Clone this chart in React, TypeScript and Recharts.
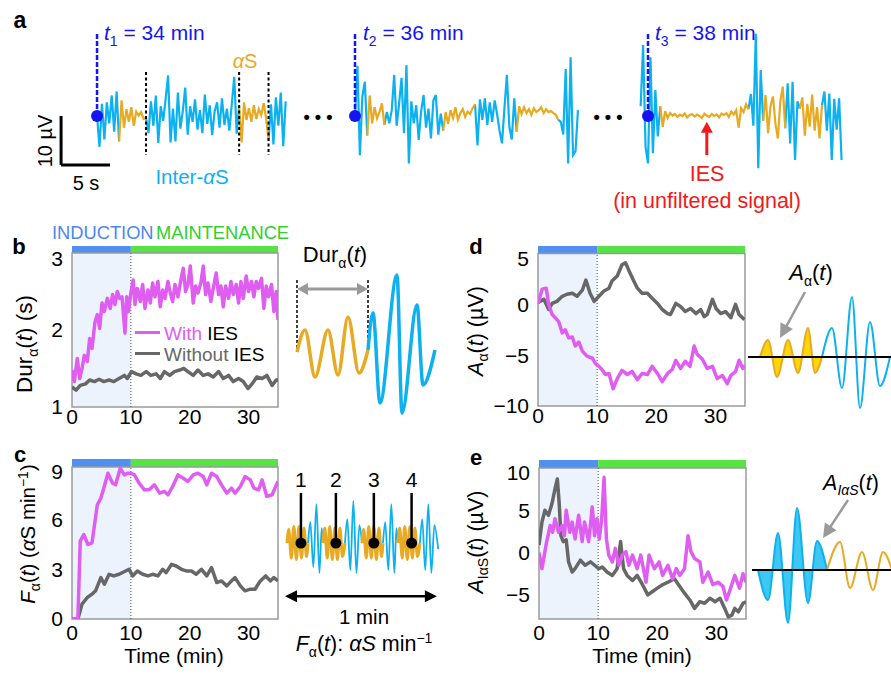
import React from 'react'
import { LineChart, ComposedChart, Line, Area, XAxis, YAxis, ReferenceLine, ReferenceArea, ReferenceDot } from 'recharts'

const FONT = '"Liberation Sans", Arial, Helvetica, sans-serif'
const CYAN = '#0db1f0'
const GOLD = '#e8aa22'
const MAG = '#e05df2'
const GRAY = '#676767'
const NAVY = '#1515f0'
const RED = '#f21a1a'
const IND = '#5290f0'
const MAINT = '#55e346'
const SHADE = '#edf3fd'

// ---- panel a: filtered EEG snippets (µV), one sample every 0.25 s ----
const STEP = 0.25
const trace1 = [
  0, -6.3, 2.5, -4.8, 2.8, -1.5, 4.2, -3.2, 5.0, -5.2,
  3.2, -2.4, 1.4, -1.2, 1.8, -2.0, 0.9, 0.1, 0.8, -0.6, -0.4,
  -3.5, 3.0, -2.0, 4.2, -5.5, 2.0, -1.0, 3.5, 8.3, -5.4, 1.5, -5.2, 4.8, -2.6, 1.0, 5.8, -3.8, 2.0, -1.2,
  3.4, -2.8, 1.2, -3.5, 4.4, -1.6, 2.2, -3.9, 1.0, 2.8, -2.4, 3.6, -1.8, 1.5, -3.0, 2.4, 8.0, -3.6, 2.0,
  -5.4, 2.8, -0.8, 1.6, -1.2, 2.2, -0.6, 1.4, 0.2, 2.6, -0.4, -5.0,
  2.4, -5.8, 3.8, -2.0, 4.8, -6.2, 3.0,
]
const trace1Spindles: [number, number][] = [[2.25, 5.0], [14.5, 17.5]]
const trace1Bounds = [5.0, 14.5, 17.5]
const trace2 = [
  0, 10.2, -8.0, 4.0, 7.0, -4.0, 4.2, -1.5, 1.8, -0.5, 0.8, 2.6, -1.8,
  0.8, -1.5, 1.2, 8.4, -2.0, 2.5, 7.8, -3.5, 10.4, -9.7, 3.0, -1.5, 2.2, -4.9, 1.0, 4.3, -2.4, 1.5, -4.6, 3.2, 4.3, -3.8, 0.5,
  -3.0, 0.8, -1.6, 1.2, -0.4, 1.8, -0.8, 0.6, 1.4, -0.2, 0.9, 0.4, 1.6, 2.4,
  -6.0, 3.4, -0.8, 3.6, -1.8, 2.8, -1.2, 3.2, 0.4, -3.0, -5.6, 1.6, 8.4, -2.2, -4.8, 3.6,
  -3.2, 2.0, 0.4, 1.8, 0.6, 1.4, 0.2, 1.6, 0.8, 1.2, 1.8, 0.6, 1.4, 0.8, 1.0, 0.6, 0.2, -0.8,
  -1.2, -3.8, 9.6, -9.7, 12.0, -8.0, -7.2, 1.2,
]
const trace2Spindles: [number, number][] = [[1.25, 3.0], [9.0, 12.25], [16.5, 20.75]]
const trace3 = [
  2.0, 14.5, -6.3, -9.7, 12.0, -7.6, 5.3, -4.2, 2.0,
  -2.2, 1.0, -0.4, 0.6, 0.1, 0.4, -0.2, 0.3, 0.0, 0.5, -0.3, 0.2, 0.4, -0.1, 0.3, 0.0, -0.4, 0.5,
  0.1, -0.2, 0.4, 0.0, 0.3, -0.3, 0.5, 0.2, 0.6, -0.2, 0.9, 0.3, 1.2, -2.4, 1.6, 0.8, 2.4, 1.4,
  4.5, -2.0, 16.8, -10.7, 9.4, -1.0,
  4.3, -3.5, 2.0, 4.0, -1.5, -4.6, 3.0, 6.0, -2.5,
  6.7, -5.6, 7.0, -9.0, 3.0, 1.5,
  3.8, -4.0, 2.5, -2.2, 4.4, -3.0, 1.8, -4.6, 2.2,
  5.0, -3.0, 4.6, -9.0, 3.5, -2.8, 3.6, -9.0,
]
const trace3Start = -0.75
const trace3Spindles: [number, number][] = [[1.25, 10.25], [11.75, 14.0], [15.5, 17.75]]
const iesAt = 6.0

// ---- panels b-e: time courses (min, value) ----
const durWith: [number, number][] = [
  [0, 1.48], [0.4, 1.33], [0.9, 1.63], [1.3, 1.37], [1.7, 1.5], [2.1, 1.67], [2.6, 1.59], [3, 1.89], [3.4, 1.76], [3.9, 2.1],
  [4.3, 2.2], [4.7, 2.02], [5.1, 2.35], [5.5, 2.24], [6, 2.41], [6.5, 2.28], [6.9, 2.46], [7.3, 2.33], [7.7, 2.5], [8.1, 2.41],
  [8.5, 2.43], [9, 1.96], [9.3, 2.43], [9.6, 2.24], [10, 2.48], [10.4, 2.65], [10.7, 2.33], [11.1, 2.54], [11.6, 2.37], [12, 2.59],
  [12.4, 2.28], [12.9, 2.52], [13.3, 2.35], [13.7, 2.61], [14.1, 2.43], [14.6, 2.63], [15, 2.3], [15.4, 2.52], [15.8, 2.41], [16.3, 2.63],
  [16.7, 2.48], [17.1, 2.37], [17.5, 2.59], [18, 2.43], [18.5, 2.65], [18.9, 2.8], [19.3, 2.5], [19.7, 2.59], [20.1, 2.83], [20.6, 2.35],
  [21, 2.57], [21.4, 2.48], [21.9, 2.61], [22.3, 2.83], [22.7, 2.46], [23.1, 2.61], [23.6, 2.37], [24, 2.54], [24.5, 2.74], [24.9, 2.46],
  [25.3, 2.57], [25.7, 2.3], [26.1, 2.57], [26.6, 2.41], [27, 2.63], [27.4, 2.46], [27.9, 2.59], [28.3, 2.35], [28.7, 2.63], [29.1, 2.41],
  [29.6, 2.7], [30, 2.5], [30.5, 2.63], [30.9, 2.43], [31.3, 2.63], [31.7, 2.54], [32.2, 2.67], [32.6, 2.28], [33, 2.57], [33.4, 2.43],
  [33.9, 2.59], [34.3, 2.24], [34.7, 2.5], [35, 2.13],
]
const durWithout: [number, number][] = [
  [0, 1.26], [0.7, 1.22], [1.4, 1.28], [2.3, 1.3], [3, 1.35], [3.8, 1.33], [4.6, 1.36], [5.4, 1.33], [6.3, 1.35], [7.1, 1.33],
  [8, 1.37], [8.9, 1.41], [9.4, 1.37], [10.1, 1.46], [10.9, 1.43], [11.7, 1.41], [12.6, 1.46], [13.4, 1.41], [14.3, 1.43], [15, 1.37],
  [15.7, 1.46], [16.6, 1.41], [17.4, 1.46], [18.3, 1.48], [19, 1.5], [19.7, 1.46], [20.6, 1.41], [21.4, 1.48], [22.3, 1.41], [23.1, 1.43],
  [24, 1.39], [24.9, 1.46], [25.7, 1.37], [26.6, 1.41], [27.4, 1.33], [28.3, 1.37], [29.1, 1.33], [29.9, 1.24], [30.6, 1.3], [31.4, 1.39],
  [32.3, 1.37], [33.1, 1.41], [34, 1.28], [34.7, 1.35], [35, 1.35],
]
const rateWith: [number, number][] = [
  [0, 0], [1, 0], [1.4, 4.7], [2, 5.1], [2.7, 4.5], [3.4, 4.6], [4.3, 6.9], [4.9, 7.3], [5.4, 7.9], [6.1, 8.8],
  [6.9, 8.2], [7.4, 8.1], [8.2, 9.1], [8.9, 8.7], [9.4, 8.8], [10, 8.8], [10.6, 8.7], [11.4, 8.2], [12.3, 7.8], [13.1, 7.8],
  [14, 8.1], [14.9, 7.6], [15.7, 7.7], [16.3, 7.5], [17.1, 8.0], [18, 8.7], [18.9, 8.5], [19.7, 8.3], [20.6, 8.7], [21.4, 8.8],
  [22.3, 8.6], [22.9, 8.1], [23.7, 8.8], [24.6, 8.6], [25.4, 8.1], [26.3, 7.6], [27.1, 7.9], [27.7, 7.6], [28.6, 8.0], [29.4, 8.6],
  [30.3, 8.4], [30.9, 7.9], [31.7, 7.8], [32.3, 8.4], [33.1, 7.4], [34, 7.5], [34.6, 8.0], [35, 8.3],
]
const rateWithout: [number, number][] = [
  [0, 0], [1, 0], [1.7, 0.9], [2.6, 1.3], [3.4, 1.5], [4, 1.7], [4.9, 2.5], [5.5, 2.1], [6.3, 2.7], [7.1, 2.6],
  [8, 2.7], [9.1, 2.9], [9.7, 3.0], [10.3, 2.6], [11.1, 2.9], [12, 2.7], [12.9, 2.6], [13.7, 2.7], [14.6, 2.6], [15.4, 3.0],
  [16, 2.8], [16.9, 3.3], [17.7, 3.2], [18.6, 3.0], [19.4, 2.9], [20.3, 2.9], [21.1, 2.7], [22, 3.0], [22.9, 2.6], [23.7, 3.1],
  [24.6, 2.2], [25.4, 2.3], [26.3, 2.0], [27.1, 2.3], [27.7, 2.5], [28.6, 2.0], [29.4, 1.7], [30.3, 1.8], [31.1, 1.8], [32, 2.3],
  [32.9, 2.6], [33.7, 2.3], [34.3, 2.5], [35, 2.3],
]
const ampWith: [number, number][] = [
  [0, 0.1], [0.7, 1.5], [1.4, 1.6], [1.8, 0], [2.4, -1.0], [2.9, -1.3], [3.5, -1.7], [4.1, -2.8], [4.6, -2.5], [5.2, -3.3],
  [5.8, -3.2], [6.3, -4.1], [6.9, -3.7], [7.5, -4.6], [8.3, -5.1], [9.2, -5.3], [9.7, -5.8], [10.3, -6.1], [10.8, -6.4], [11.4, -6.9],
  [12, -6.8], [12.7, -8.3], [13.4, -7.3], [14.2, -6.5], [15.1, -6.9], [15.9, -6.6], [16.8, -7.4], [17.6, -6.8], [18.5, -6.9], [19.3, -6.1],
  [20.2, -6.8], [21, -7.6], [21.9, -6.8], [22.7, -6.4], [23.3, -5.5], [24.1, -6.3], [24.9, -5.6], [25.7, -6.1], [26.4, -4.1], [26.9, -4.9],
  [27.8, -5.4], [28.6, -6.3], [29.5, -6.1], [30.3, -7.3], [31.2, -7.0], [32, -7.8], [32.6, -7.0], [33.4, -6.6], [34, -5.5], [34.6, -6.3],
  [35, -6.0],
]
const ampWithout: [number, number][] = [
  [0, 0.2], [1, 0.5], [1.8, -0.5], [2.4, 0.1], [3.2, 0.3], [4.1, 0.8], [4.9, 1.0], [5.8, 1.1], [6.6, 0.8], [7.5, 1.4],
  [8.1, 2.4], [8.8, 1.1], [9.5, 0.3], [10.3, 0.8], [11.1, 1.3], [12, 1.6], [12.5, 2.3], [13.4, 2.8], [14.2, 3.9], [14.8, 4.1],
  [15.4, 3.3], [16.2, 2.3], [16.8, 1.6], [17.6, 1.1], [18.5, 1.1], [19.3, 0.6], [20.2, 0.1], [21, -0.5], [21.9, -0.9], [22.4, -1.0],
  [23.3, 0.1], [24.1, -0.2], [24.9, -0.7], [25.8, -0.4], [26.7, -0.9], [27.5, -0.5], [28.1, -1.2], [28.6, -1.0], [29.5, 0.5], [30.1, -0.4],
  [30.9, -0.9], [31.7, -0.7], [32.6, -1.3], [33.4, 0], [34, -1.0], [34.9, -1.5],
]
const interAmpWith: [number, number][] = [
  [0, 0], [0.5, -1.9], [0.9, -0.3], [1.3, 1.3], [1.9, 3.2], [2.3, 2.4], [2.7, 4.0], [3.3, 2.4], [3.9, 3.2], [4.3, 2.0],
  [4.6, 5.0], [5.2, 2.4], [5.6, 3.6], [6.1, 1.6], [6.7, 4.4], [7.3, 1.3], [7.7, 3.6], [8.4, 1.3], [9, 5.4], [9.4, 2.0],
  [9.8, 4.0], [10.2, 1.6], [10.6, 4.0], [11, 8.9], [11.4, 1.6], [11.8, -0.3], [12.4, -1.1], [12.9, 0.5], [13.5, -1.5], [14.1, -0.3],
  [14.7, 0.1], [15.2, -1.5], [15.8, -0.3], [16.6, -1.9], [17.2, -0.3], [18.1, -3.5], [18.6, -0.3], [19.5, -1.9], [20.3, -1.1], [20.9, -2.7],
  [21.8, -1.5], [22.6, -3.1], [23.2, -1.9], [23.8, -2.7], [24.6, -1.9], [25.2, 2.0], [25.7, 0.1], [26.3, -0.7], [27.2, -1.1], [27.7, -3.5],
  [28.6, -2.3], [29.4, -3.8], [30.3, -3.5], [31.1, -4.0], [31.7, -5.6], [32.4, -4.2], [33.1, -2.7], [33.9, -4.2], [34.5, -2.5], [35, -3.5],
]
const interAmpWithout: [number, number][] = [
  [0, 0.9], [0.5, 3.6], [1, 5.0], [1.6, 4.4], [2.2, 5.8], [2.7, 7.5], [3.1, 8.7], [3.4, 6.0], [3.7, 2.0], [4.1, 1.3],
  [4.6, 1.5], [5, -1.1], [5.6, -2.3], [6.1, -1.9], [7, -0.9], [7.8, -1.5], [8.7, -1.1], [9.4, -1.5], [10.1, -1.9], [10.7, -1.7],
  [11.5, -2.3], [12.4, -2.7], [13.2, -1.9], [13.8, 1.3], [14.3, -1.9], [14.9, -2.7], [15.8, -3.3], [16.6, -2.7], [17.5, -3.8], [18.4, -5.0],
  [19.2, -4.6], [20, -4.2], [20.9, -3.8], [21.8, -3.5], [22.9, -3.1], [23.8, -4.0], [24.6, -4.8], [25.5, -5.6], [26.3, -6.6], [27.2, -5.8],
  [28, -6.0], [28.9, -5.4], [29.8, -5.8], [30.6, -5.4], [31.4, -6.6], [32, -7.6], [32.6, -7.4], [33.1, -6.6], [33.7, -7.0], [34.5, -6.0],
  [35, -5.8],
]

// ---- schematics (ms or s, arbitrary µV) ----
const durDemoSpindle: [number, number][] = [[0, 0], [32, 2.2], [72, -2.5], [124, 2.2], [164, -2.3], [204, 3.5], [248, -2.1], [284, 0.2]]
const durDemoInter: [number, number][] = [[284, 0.2], [304, 3.9], [332, -5.1], [400, 7.7], [420, -6.1], [480, 4.7], [504, -3.3], [552, 0.2]]
const rateDemo: [number, number][] = [
  [0.8, 0], [1.5, 4.5], [2.5, -5], [3.5, 5.5], [4.5, -5.5], [5.5, 5.5], [6.5, -5], [7.5, 5], [8.5, -4.5], [9.1, 0],
  [10.0, 7], [11.2, -8], [12.4, 13], [13.6, -10], [14.5, 5],
  [15.0, 0], [15.7, 5], [16.7, -5], [17.7, 5.5], [18.7, -5.5], [19.7, 5], [20.7, -5.5], [21.7, 5], [22.7, -4.5], [23.7, 0],
  [24.6, 8], [25.8, -9], [27.0, 14], [28.2, -10], [29.4, 6],
  [30.4, 0], [31.1, 4.5], [32.1, -5], [33.1, 5.5], [34.1, -5], [35.1, 5.5], [36.1, -5.5], [37.1, 5], [38.1, -4.5], [38.7, 0],
  [39.6, 7], [40.8, -9], [42.0, 13], [43.2, -10], [44.0, 5],
  [44.6, 0], [45.3, 5], [46.3, -5], [47.3, 5.5], [48.3, -5.5], [49.3, 5.5], [50.3, -5], [51.3, 5], [52.3, -4.5], [53.3, 0],
  [54.2, 8], [55.4, -9], [56.6, 13], [57.8, -10], [59.0, 6], [60.5, -2],
]
const rateDemoSpindles: [number, number][] = [[0.8, 9.1], [15.0, 23.7], [30.4, 38.7], [44.6, 53.3]]
const rateDemoMarks = [6.3, 20.1, 35.1, 50.0]
const ampDemoSpindle: [number, number][] = [[0, 0], [40, 1.7], [85, -2.0], [140, 1.7], [190, -1.6], [240, 2.9], [275, -1.6], [310, 0]]
const ampDemoInter: [number, number][] = [[310, 0], [360, 2.9], [410, -3.1], [460, 6.0], [500, -5.1], [550, 3.5], [600, -2.9], [650, 0]]
const iampDemoInter: [number, number][] = [[0, 0], [50, -3.0], [100, 3.7], [150, -5.3], [195, 6.2], [250, -3.3], [295, 2.9], [345, 0]]
const iampDemoSpindle: [number, number][] = [[345, 0], [410, 2.8], [460, -1.8], [520, 1.8], [575, -2.0], [625, 1.8], [670, 0]]

const rows = (p: [number, number][]) => p.map(([t, v]) => ({ t, v }))
const minus = (v: number) => (v < 0 ? `\u2212${-v}` : `${v}`)

function splitRuns(pts: [number, number][], wins: [number, number][]) {
  const e = 1e-6
  return pts.map(([t, v]) => {
    const inWin = wins.some(([a, b]) => t >= a - e && t <= b + e)
    const strict = wins.some(([a, b]) => t > a + e && t < b - e)
    return { t, sp: inWin ? v : null, inter: strict ? null : v }
  })
}
const sampled = (vals: number[], t0: number): [number, number][] => vals.map((v, i) => [t0 + i * STEP, v])

function arrowShape(both: boolean, len = 10, half = 5) {
  return (p: any) => {
    const { x1, y1, x2, y2, stroke, strokeWidth } = p
    const a = Math.atan2(y2 - y1, x2 - x1)
    const c = Math.cos(a), s = Math.sin(a)
    const tri = (x: number, y: number, d: number) => {
      const bx = x - d * len * c, by = y - d * len * s
      return `${x},${y} ${bx - half * s},${by + half * c} ${bx + half * s},${by - half * c}`
    }
    const sx = both ? x1 + len * 0.8 * c : x1
    const sy = both ? y1 + len * 0.8 * s : y1
    return (
      <g>
        <line x1={sx} y1={sy} x2={x2 - len * 0.8 * c} y2={y2 - len * 0.8 * s} stroke={stroke} strokeWidth={strokeWidth} />
        <polygon points={tri(x2, y2, 1)} fill={stroke} />
        {both && <polygon points={tri(x1, y1, -1)} fill={stroke} />}
      </g>
    )
  }
}

function Txt({ x, y, size = 18, color = '#000', anchor = 'middle', bold, rotate, children }: any) {
  const tx = anchor === 'middle' ? '-50%' : anchor === 'end' ? '-100%' : '0'
  return (
    <div style={{ position: 'absolute', left: x, top: y, transform: `translate(${tx}, -50%)${rotate ? ` rotate(${rotate}deg)` : ''}`, fontSize: size, color, fontWeight: bold ? 700 : 400, whiteSpace: 'nowrap', lineHeight: 1 }}>
      {children}
    </div>
  )
}

const SEG_TOP = 28
const SEG_H = 176
const SEG_Y: [number, number] = [-18, 18]

function Trace({ pts, wins, left, width, domain, children }: any) {
  return (
    <div style={{ position: 'absolute', left, top: SEG_TOP }}>
      <LineChart width={width} height={SEG_H} data={splitRuns(pts, wins)} margin={{ top: 0, right: 0, bottom: 0, left: 0 }}>
        <XAxis type="number" dataKey="t" domain={domain} hide allowDataOverflow />
        <YAxis type="number" domain={SEG_Y} hide allowDataOverflow />
        <Line dataKey="inter" stroke={CYAN} strokeWidth={2.2} dot={false} isAnimationActive={false} />
        <Line dataKey="sp" stroke={GOLD} strokeWidth={2.2} dot={false} isAnimationActive={false} />
        {children}
      </LineChart>
    </div>
  )
}

function TimePanel({ plotLeft, barTop, plotW, plotH, domain, frameTop, ticks, withIES, withoutIES, tickGap }: any) {
  const [lo, hi] = domain
  const tick = { fill: '#000', fontSize: 21, fontFamily: FONT }
  return (
    <div style={{ position: 'absolute', left: plotLeft - 60, top: barTop }}>
      <ComposedChart width={plotW + 64} height={plotH + 30} margin={{ top: 0, right: 4, bottom: 0, left: 0 }}>
        <XAxis type="number" dataKey="t" domain={[0, 35]} ticks={[0, 10, 20, 30]} axisLine={false} tickLine={false} tickSize={0} tickMargin={tickGap} height={30}
          tick={tick} allowDataOverflow />
        <YAxis type="number" domain={[lo, hi]} ticks={ticks} axisLine={false} tickLine={false} tickSize={0} tickMargin={9} width={60}
          tick={tick} tickFormatter={minus} allowDataOverflow />
        <ReferenceArea x1={0} x2={10} y1={lo} y2={frameTop} fill={SHADE} fillOpacity={1} stroke="none" />
        <ReferenceArea x1={0} x2={10} y1={frameTop} y2={hi} fill={IND} fillOpacity={1} stroke="none" />
        <ReferenceArea x1={10} x2={35} y1={frameTop} y2={hi} fill={MAINT} fillOpacity={1} stroke="none" />
        <ReferenceLine segment={[{ x: 10, y: lo }, { x: 10, y: frameTop }]} stroke="#555" strokeDasharray="1 2" strokeWidth={1} />
        <Line data={rows(withoutIES)} dataKey="v" stroke={GRAY} strokeWidth={3.5} dot={false} isAnimationActive={false} strokeLinejoin="round" />
        <Line data={rows(withIES)} dataKey="v" stroke={MAG} strokeWidth={3.5} dot={false} isAnimationActive={false} strokeLinejoin="round" />
        <ReferenceArea x1={0} x2={35} y1={lo} y2={frameTop} fill="none" stroke="#9a9a9a" strokeWidth={1.5} />
      </ComposedChart>
    </div>
  )
}

const SUB = { fontSize: 14 }

export default function App() {
  const scaleX = -3.67
  return (
    <div style={{ position: 'absolute', left: 0, top: 0, width: 891, height: 676, background: '#fff', fontFamily: FONT, overflow: 'hidden' }}>
      {/* ---------- panel a ---------- */}
      <Txt x={20} y={20} size={23} bold>a</Txt>
      <Trace pts={sampled(trace1, 0)} wins={trace1Spindles} left={50} width={245} domain={[-4.8, 20.2]}>
        {trace1Bounds.map((b) => (
          <ReferenceLine key={b} segment={[{ x: b, y: 9 }, { x: b, y: -8 }]} stroke="#000" strokeWidth={2} strokeDasharray="3 2.5" ifOverflow="visible" />
        ))}
        <ReferenceLine segment={[{ x: scaleX, y: 0 }, { x: scaleX, y: -10 }]} stroke="#000" strokeWidth={3} ifOverflow="visible" />
        <ReferenceLine segment={[{ x: scaleX, y: -10 }, { x: scaleX + 5, y: -10 }]} stroke="#000" strokeWidth={3} ifOverflow="visible" />
        <ReferenceLine segment={[{ x: 0, y: 0 }, { x: 0, y: 17 }]} stroke={NAVY} strokeWidth={2.5} strokeDasharray="5 2" ifOverflow="visible" />
        <ReferenceDot x={0} y={0} r={6} fill={NAVY} stroke="none" ifOverflow="visible" />
      </Trace>
      <Trace pts={sampled(trace2, 0)} wins={trace2Spindles} left={345} width={245} domain={[-1.02, 23.98]}>
        <ReferenceLine segment={[{ x: 0, y: 0 }, { x: 0, y: 17 }]} stroke={NAVY} strokeWidth={2.5} strokeDasharray="5 2" ifOverflow="visible" />
        <ReferenceDot x={0} y={0} r={6} fill={NAVY} stroke="none" ifOverflow="visible" />
      </Trace>
      <Trace pts={sampled(trace3, trace3Start)} wins={trace3Spindles} left={630} width={230} domain={[-1.837, 21.63]}>
        <ReferenceLine segment={[{ x: 0, y: 0 }, { x: 0, y: 17 }]} stroke={NAVY} strokeWidth={2.5} strokeDasharray="5 2" ifOverflow="visible" />
        <ReferenceDot x={0} y={0} r={6} fill={NAVY} stroke="none" ifOverflow="visible" />
        <ReferenceLine segment={[{ x: iesAt, y: -8 }, { x: iesAt, y: -1.2 }]} stroke={RED} strokeWidth={3} ifOverflow="visible" shape={arrowShape(false, 11, 6)} />
      </Trace>
      <Txt x={104} y={35} size={21} color={NAVY} anchor="start"><i>t</i><sub style={SUB}>1</sub> = 34 min</Txt>
      <Txt x={363} y={35} size={21} color={NAVY} anchor="start"><i>t</i><sub style={SUB}>2</sub> = 36 min</Txt>
      <Txt x={655} y={35} size={21} color={NAVY} anchor="start"><i>t</i><sub style={SUB}>3</sub> = 38 min</Txt>
      <Txt x={245} y={61} size={20} color={GOLD}><i>α</i>S</Txt>
      <Txt x={192} y={177} size={20.5} color={CYAN}>Inter-<i>α</i>S</Txt>
      <Txt x={45} y={141} size={20} rotate={-90}>10 µV</Txt>
      <Txt x={86} y={183} size={20}>5 s</Txt>
      <Txt x={318} y={117} size={18} bold>• • •</Txt>
      <Txt x={608} y={117} size={18} bold>• • •</Txt>
      <Txt x={707} y={175} size={21.5} color={RED}>IES</Txt>
      <Txt x={707} y={202} size={21.5} color={RED}>(in unfiltered signal)</Txt>

      {/* ---------- panel b ---------- */}
      <Txt x={19} y={247} size={22} bold>b</Txt>
      <Txt x={52} y={233} size={18.3} color="#4a88f0" anchor="start">INDUCTION</Txt>
      <Txt x={156} y={233} size={18.3} color="#2fd02f" anchor="start">MAINTENANCE</Txt>
      <TimePanel plotLeft={72} barTop={246} plotW={206} plotH={161} domain={[1, 3.09]} frameTop={3} ticks={[1, 2, 3]} withIES={durWith} withoutIES={durWithout} tickGap={2} />
      <Txt x={27} y={344} size={22.5} rotate={-90}>Dur<sub style={SUB}>α</sub>(<i>t</i>) (s)</Txt>
      <div style={{ position: 'absolute', left: 135, top: 331, width: 25, height: 3, background: MAG }} />
      <Txt x={164} y={333} size={19} color={MAG} anchor="start">With <span style={{ color: '#000' }}>IES</span></Txt>
      <div style={{ position: 'absolute', left: 135, top: 352, width: 25, height: 3, background: GRAY }} />
      <Txt x={164} y={354} size={19} color={GRAY} anchor="start">Without <span style={{ color: '#000' }}>IES</span></Txt>

      {/* b schematic */}
      <Txt x={335} y={257} size={22}>Dur<sub style={SUB}>α</sub>(<i>t</i>)</Txt>
      <div style={{ position: 'absolute', left: 285, top: 265 }}>
        <ComposedChart width={160} height={160} margin={{ top: 0, right: 0, bottom: 0, left: 0 }}>
          <XAxis type="number" dataKey="t" domain={[-48, 592]} hide allowDataOverflow />
          <YAxis type="number" domain={[-7.3, 8.7]} hide allowDataOverflow />
          <ReferenceLine segment={[{ x: 0, y: 7.2 }, { x: 0, y: 0 }]} stroke="#000" strokeDasharray="3 2" strokeWidth={1.5} />
          <ReferenceLine segment={[{ x: 284, y: 7.2 }, { x: 284, y: 0.4 }]} stroke="#000" strokeDasharray="3 2" strokeWidth={1.5} />
          <ReferenceLine segment={[{ x: 0, y: 6.3 }, { x: 284, y: 6.3 }]} stroke="#9a9a9a" strokeWidth={3} shape={arrowShape(true, 11, 6)} />
          <Line data={rows(durDemoSpindle)} dataKey="v" type="monotone" stroke={GOLD} strokeWidth={3.5} dot={false} isAnimationActive={false} />
          <Line data={rows(durDemoInter)} dataKey="v" type="monotone" stroke={CYAN} strokeWidth={3.5} dot={false} isAnimationActive={false} />
        </ComposedChart>
      </div>

      {/* ---------- panel c ---------- */}
      <Txt x={20} y={455} size={22} bold>c</Txt>
      <TimePanel plotLeft={72} barTop={459} plotW={206} plotH={160} domain={[0, 9.66]} frameTop={9.18} ticks={[0, 3, 6, 9]} withIES={rateWith} withoutIES={rateWithout} tickGap={6} />
      <Txt x={29} y={534} size={20.5} rotate={-90}><i>F</i><sub style={SUB}>α</sub>(<i>t</i>) (<i>α</i>S min<sup style={SUB}>−1</sup>)</Txt>
      <Txt x={174} y={655} size={21}>Time (min)</Txt>

      {/* c schematic */}
      <div style={{ position: 'absolute', left: 280, top: 465 }}>
        <ComposedChart width={165} height={145} data={splitRuns(rateDemo, rateDemoSpindles)} margin={{ top: 0, right: 0, bottom: 0, left: 0 }}>
          <XAxis type="number" dataKey="t" domain={[-1.97, 63.2]} hide allowDataOverflow />
          <YAxis type="number" domain={[-22.3, 26]} hide allowDataOverflow />
          <Line dataKey="inter" type="monotone" stroke={CYAN} strokeWidth={1.8} dot={false} isAnimationActive={false} />
          <Line dataKey="sp" type="monotone" stroke={GOLD} strokeWidth={3} dot={false} isAnimationActive={false} />
          {rateDemoMarks.map((m, i) => (
            <ReferenceLine key={m} segment={[{ x: m, y: 16.7 }, { x: m, y: 0 }]} stroke="#000" strokeWidth={2.5}
              label={{ value: String(i + 1), position: 'top', offset: 6, fill: '#000', fontSize: 21, fontFamily: FONT }} ifOverflow="visible" />
          ))}
          {rateDemoMarks.map((m) => (
            <ReferenceDot key={`d${m}`} x={m} y={0} r={5.5} fill="#000" stroke="none" />
          ))}
          <ReferenceLine segment={[{ x: 0, y: -17.7 }, { x: 60, y: -17.7 }]} stroke="#000" strokeWidth={2.5} shape={arrowShape(true, 12, 6)} ifOverflow="visible" />
        </ComposedChart>
      </div>
      <Txt x={364} y={617} size={20.5}>1 min</Txt>
      <Txt x={364} y={645} size={21.5}><i>F</i><sub style={SUB}>α</sub>(<i>t</i>): <i>αS</i> min<sup style={SUB}>−1</sup></Txt>

      {/* ---------- panel d ---------- */}
      <Txt x={476} y={247} size={22} bold>d</Txt>
      <TimePanel plotLeft={538} barTop={246} plotW={207} plotH={160} domain={[-10, 5.75]} frameTop={5} ticks={[-10, -5, 0, 5]} withIES={ampWith} withoutIES={ampWithout} tickGap={2} />
      <Txt x={478} y={331} size={21.5} rotate={-90}><i>A</i><sub style={SUB}>α</sub>(<i>t</i>) (µV)</Txt>

      {/* d schematic */}
      <Txt x={811} y={275} size={22}><i>A</i><sub style={SUB}>α</sub>(<i>t</i>)</Txt>
      <div style={{ position: 'absolute', left: 745, top: 260 }}>
        <ComposedChart width={146} height={160} margin={{ top: 0, right: 0, bottom: 0, left: 0 }}>
          <XAxis type="number" dataKey="t" domain={[-75, 655]} hide allowDataOverflow />
          <YAxis type="number" domain={[-6.3, 9.7]} hide allowDataOverflow />
          <Area data={rows(ampDemoSpindle)} dataKey="v" type="monotone" baseValue={0} stroke={GOLD} strokeWidth={2} fill="#ffd60a" fillOpacity={1} dot={false} isAnimationActive={false} />
          <Line data={rows(ampDemoInter)} dataKey="v" type="monotone" stroke={CYAN} strokeWidth={2} dot={false} isAnimationActive={false} />
          <ReferenceLine segment={[{ x: -60, y: 0 }, { x: 655, y: 0 }]} stroke="#000" strokeWidth={2} ifOverflow="visible" />
          <ReferenceLine segment={[{ x: 225, y: 6.5 }, { x: 100, y: 1.9 }]} stroke="#9a9a9a" strokeWidth={2.5} shape={arrowShape(false, 14, 7)} />
        </ComposedChart>
      </div>

      {/* ---------- panel e ---------- */}
      <Txt x={476} y={458} size={22} bold>e</Txt>
      <TimePanel plotLeft={539} barTop={460} plotW={207} plotH={159} domain={[-7.85, 10.94]} frameTop={10} ticks={[-5, 0, 5, 10]} withIES={interAmpWith} withoutIES={interAmpWithout} tickGap={6} />
      <Txt x={478} y={542} size={21.5} rotate={-90}><i>A</i><sub style={SUB}>IαS</sub>(<i>t</i>) (µV)</Txt>
      <Txt x={642} y={655} size={21}>Time (min)</Txt>

      {/* e schematic */}
      <Txt x={851} y={485} size={21.5}><i>A</i><sub style={SUB}><i>IαS</i></sub>(<i>t</i>)</Txt>
      <div style={{ position: 'absolute', left: 745, top: 470 }}>
        <ComposedChart width={146} height={160} margin={{ top: 0, right: 0, bottom: 0, left: 0 }}>
          <XAxis type="number" dataKey="t" domain={[-65, 665]} hide allowDataOverflow />
          <YAxis type="number" domain={[-6, 10]} hide allowDataOverflow />
          <Area data={rows(iampDemoInter)} dataKey="v" type="monotone" baseValue={0} stroke={CYAN} strokeWidth={2} fill="#3cc8f2" fillOpacity={1} dot={false} isAnimationActive={false} />
          <Line data={rows(iampDemoSpindle)} dataKey="v" type="monotone" stroke={GOLD} strokeWidth={2} dot={false} isAnimationActive={false} />
          <ReferenceLine segment={[{ x: -30, y: 0 }, { x: 665, y: 0 }]} stroke="#000" strokeWidth={2} ifOverflow="visible" />
          <ReferenceLine segment={[{ x: 450, y: 7.0 }, { x: 325, y: 3.2 }]} stroke="#9a9a9a" strokeWidth={2.5} shape={arrowShape(false, 14, 7)} />
        </ComposedChart>
      </div>
    </div>
  )
}
